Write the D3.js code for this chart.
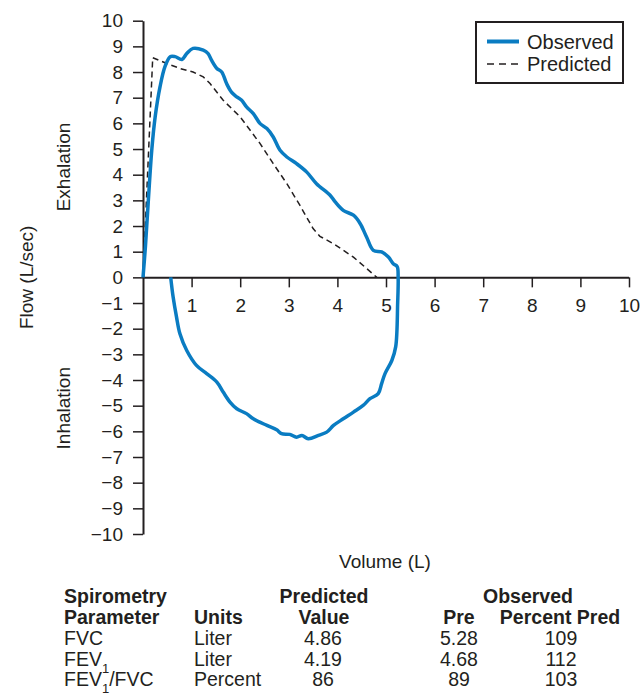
<!DOCTYPE html>
<html lang="en">
<head>
  <meta charset="UTF-8">
  <title>Spirometry flow-volume loop</title>
  <script src="https://d3js.org/d3.v7.min.js"></script>
  <style>
    body { margin: 0; background: #fff; }
    text { font-family: "Liberation Sans", Arial, Helvetica, sans-serif; fill: #231f20; }
  </style>
</head>
<body>
<div class="canvas"></div>
<script>
  // observed loop: expiration then inspiration (volume L, flow L/sec)
  const obsVolume = [0, 0.05, 0.11, 0.18, 0.25, 0.35, 0.45, 0.56, 0.66, 0.8, 0.9, 1.03, 1.24, 1.34, 1.41, 1.52, 1.62, 1.72, 1.82, 1.93, 2.03, 2.13, 2.27, 2.41, 2.55, 2.68, 2.82, 2.96, 3.16, 3.37, 3.57, 3.85, 3.95, 4.12, 4.33, 4.47, 4.6, 4.74, 4.91, 5.05, 5.15, 5.23, 5.25,
    5.24, 5.2, 5.12, 4.98, 4.91, 4.84, 4.67, 4.53, 4.33, 4.12, 3.92, 3.78, 3.61, 3.4, 3.27, 3.16, 3.02, 2.85, 2.75, 2.55, 2.27, 2.13, 1.93, 1.79, 1.65, 1.52, 1.31, 1.1, 0.9, 0.76, 0.69, 0.62, 0.57]
  const obsFlow = [0, 1.2, 3.0, 4.95, 6.25, 7.42, 8.2, 8.6, 8.6, 8.49, 8.72, 8.92, 8.85, 8.72, 8.46, 8.14, 8.0, 7.55, 7.22, 7.03, 6.9, 6.64, 6.38, 5.99, 5.8, 5.47, 4.95, 4.69, 4.43, 4.1, 3.65, 3.2, 2.95, 2.61, 2.42, 2.09, 1.57, 1.05, 0.99, 0.79, 0.53, 0.42, 0,
    -1.0, -2.7, -3.24, -3.75, -4.14, -4.53, -4.73, -4.99, -5.25, -5.51, -5.77, -6.03, -6.16, -6.29, -6.16, -6.23, -6.12, -6.09, -5.94, -5.77, -5.51, -5.31, -5.12, -4.86, -4.47, -4.08, -3.75, -3.43, -2.85, -2.2, -1.55, -0.77, 0]

  // predicted expiratory curve
  const predVolume = [0, 0.2, 0.49, 0.76, 1.03, 1.24, 1.38, 1.65, 2.0, 2.41, 2.68, 2.96, 3.23, 3.5, 3.64, 3.92, 4.33, 4.81]
  const predFlow = [0, 8.56, 8.33, 8.14, 8.0, 7.81, 7.55, 6.9, 6.25, 5.21, 4.43, 3.65, 2.8, 1.9, 1.6, 1.31, 0.79, 0]

  const xTicks = [1, 2, 3, 4, 5, 6, 7, 8, 9, 10]
  const yTicks = d3.range(-10, 11)

  // table
  const params = ['FVC', 'FEV|1', 'FEV|1|/FVC']
  const units = ['Liter', 'Liter', 'Percent']
  const predValue = ['4.86', '4.19', '86']
  const obsPre = ['5.28', '4.68', '89']
  const percentPred = ['109', '112', '103']

  const blue = '#0a7cc2'
  const ink = '#231f20'

  const svg = d3.select('.canvas')
    .append('svg')
    .attr('width', 642)
    .attr('height', 698)

  const x = d3.scaleLinear().domain([0, 10]).range([143, 629])
  const y = d3.scaleLinear().domain([-10, 10]).range([534, 20.7])

  const fmt = d => String(d).replace('-', '\u2212')

  // y axis
  const yAxis = svg.append('g')
    .attr('transform', `translate(${x(0)},0)`)
    .call(d3.axisLeft(y).tickValues(yTicks).tickSize(10).tickPadding(10).tickSizeOuter(0).tickFormat(fmt))
  // x axis
  const xAxis = svg.append('g')
    .attr('transform', `translate(0,${y(0)})`)
    .call(d3.axisBottom(x).tickValues(xTicks).tickSize(10).tickPadding(11).tickSizeOuter(0))

  for (const ax of [xAxis, yAxis]) {
    ax.select('.domain').attr('stroke', ink).attr('stroke-width', 2)
    ax.selectAll('.tick line').attr('stroke', ink).attr('stroke-width', 1.5)
    ax.selectAll('.tick text').style('font-size', '19px').attr('fill', ink)
  }
  xAxis.select('.domain').attr('d', `M${x(0)},0.5H${x(10)}`)

  const line = d3.line().x(d => x(d[0])).y(d => y(d[1]))

  // predicted (dashed)
  svg.append('path')
    .datum(d3.zip(predVolume, predFlow))
    .attr('fill', 'none')
    .attr('stroke', ink)
    .attr('stroke-width', 1.5)
    .attr('stroke-dasharray', '6,4')
    .attr('d', line)

  // observed loop
  svg.append('path')
    .datum(d3.zip(obsVolume, obsFlow))
    .attr('fill', 'none')
    .attr('stroke', blue)
    .attr('stroke-width', 3.5)
    .attr('stroke-linejoin', 'round')
    .attr('d', line.curve(d3.curveCatmullRom.alpha(0.5)))

  // axis labels
  svg.append('text')
    .attr('transform', `translate(33,${y(0)}) rotate(-90)`)
    .attr('text-anchor', 'middle')
    .style('font-size', '19px')
    .text('Flow (L/sec)')
  svg.append('text')
    .attr('transform', `translate(70,${y(4.3)}) rotate(-90)`)
    .attr('text-anchor', 'middle')
    .style('font-size', '19px')
    .text('Exhalation')
  svg.append('text')
    .attr('transform', `translate(70,${y(-5.1)}) rotate(-90)`)
    .attr('text-anchor', 'middle')
    .style('font-size', '19px')
    .text('Inhalation')
  svg.append('text')
    .attr('x', 385)
    .attr('y', 568)
    .attr('text-anchor', 'middle')
    .style('font-size', '19px')
    .text('Volume (L)')

  // legend
  const lg = svg.append('g')
  lg.append('rect')
    .attr('x', 476).attr('y', 22).attr('width', 147).attr('height', 61)
    .attr('fill', '#fff').attr('stroke', ink).attr('stroke-width', 2)
  lg.append('line')
    .attr('x1', 487).attr('x2', 519).attr('y1', 41.5).attr('y2', 41.5)
    .attr('stroke', blue).attr('stroke-width', 4)
  lg.append('line')
    .attr('x1', 487).attr('x2', 519).attr('y1', 64).attr('y2', 64)
    .attr('stroke', ink).attr('stroke-width', 1.5).attr('stroke-dasharray', '7,5')
  lg.append('text').attr('x', 527).attr('y', 48.5).style('font-size', '20px').text('Observed')
  lg.append('text').attr('x', 527).attr('y', 71).style('font-size', '20px').text('Predicted')

  // table
  const rowY = [603, 624, 645, 666, 686]
  const tfs = '19.5px'
  const tbl = svg.append('g')

  const head = [
    { t: 'Spirometry', x: 64, y: rowY[0], a: 'start' },
    { t: 'Parameter', x: 64, y: rowY[1], a: 'start' },
    { t: 'Units', x: 194, y: rowY[1], a: 'start' },
    { t: 'Predicted', x: 324, y: rowY[0], a: 'middle' },
    { t: 'Value', x: 324, y: rowY[1], a: 'middle' },
    { t: 'Observed', x: 528, y: rowY[0], a: 'middle' },
    { t: 'Pre', x: 459, y: rowY[1], a: 'middle' },
    { t: 'Percent Pred', x: 560, y: rowY[1], a: 'middle' }
  ]
  tbl.selectAll('.head')
    .data(head)
    .enter()
    .append('text')
    .attr('x', d => d.x).attr('y', d => d.y)
    .attr('text-anchor', d => d.a)
    .style('font-size', tfs)
    .style('font-weight', 'bold')
    .text(d => d.t)

  params.forEach((p, i) => {
    const yy = rowY[i + 2]
    const t = tbl.append('text').attr('x', 64).attr('y', yy).style('font-size', tfs)
    p.split('|').forEach((part, k) => {
      const sub = k % 2 === 1
      t.append('tspan')
        .attr('dy', sub ? 7 : (k > 0 ? -7 : 0))
        .style('font-size', sub ? '13px' : tfs)
        .text(part)
    })
    tbl.append('text').attr('x', 194).attr('y', yy).style('font-size', tfs).text(units[i])
    tbl.append('text').attr('x', 323).attr('y', yy).attr('text-anchor', 'middle').style('font-size', tfs).text(predValue[i])
    tbl.append('text').attr('x', 459).attr('y', yy).attr('text-anchor', 'middle').style('font-size', tfs).text(obsPre[i])
    tbl.append('text').attr('x', 561).attr('y', yy).attr('text-anchor', 'middle').style('font-size', tfs).text(percentPred[i])
  })
</script>
</body>
</html>
